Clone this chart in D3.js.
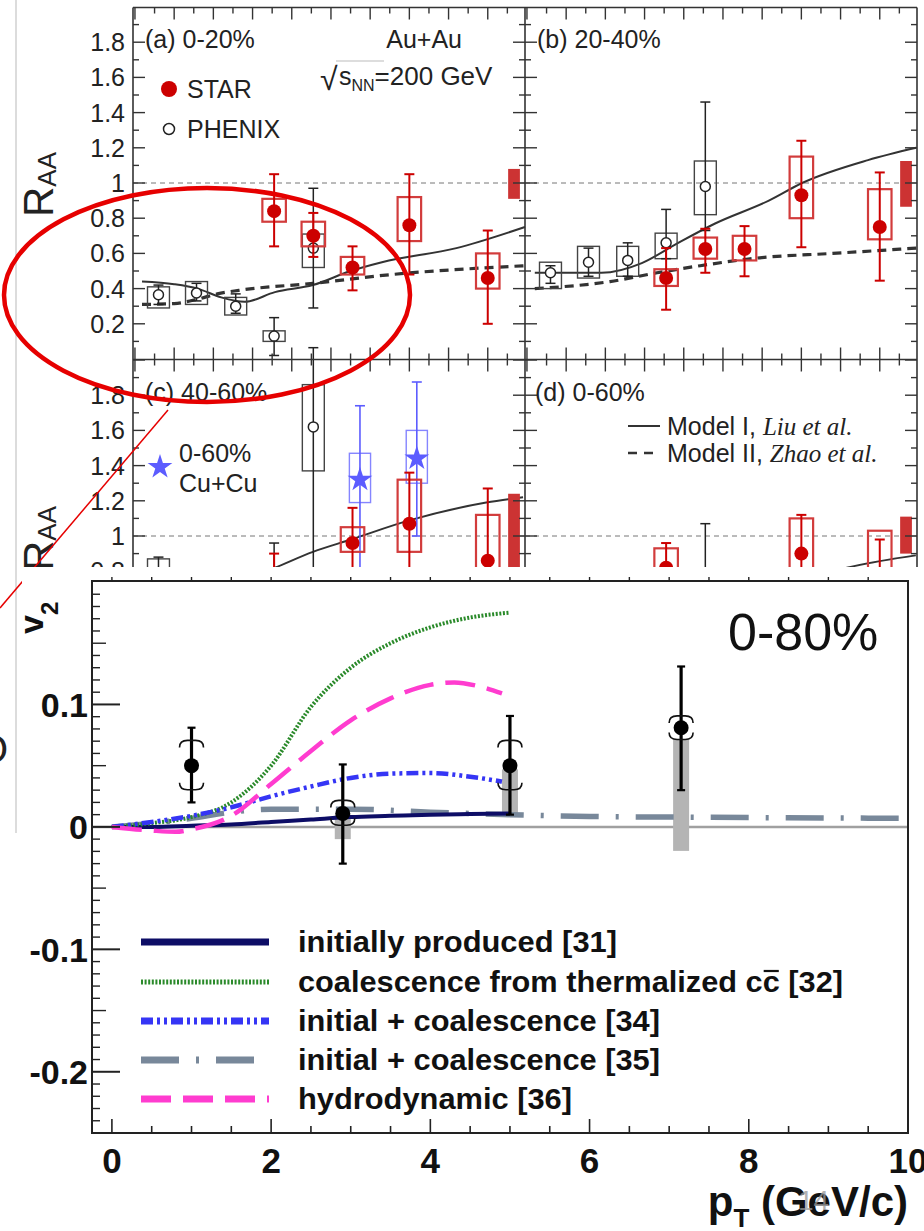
<!DOCTYPE html>
<html>
<head>
<meta charset="utf-8">
<script src="https://cdn.jsdelivr.net/npm/d3@7"></script>
<style>
  body { margin: 0; background: #fff; }
  svg { display: block; }
</style>
</head>
<body>
<div id="chart"></div>
<script>
// ---------- upper figure: J/psi R_AA (STAR / PHENIX) ----------
const phenixPt = [0.6, 1.57, 2.57, 3.55, 4.55]
const starPt = [3.55, 4.55, 5.55, 7.0, 9.0]
const yLabelsUpper = [0.2, 0.4, 0.6, 0.8, 1, 1.2, 1.4, 1.6, 1.8]
const yLabelsLower = [0.8, 1, 1.2, 1.4, 1.6, 1.8]

// (a) 0-20%
const starA = [0.84, 0.70, 0.52, 0.76, 0.46]
const starAErrHi = [1.05, 0.83, 0.64, 1.05, 0.73]
const starAErrLo = [0.64, 0.58, 0.39, 0.48, 0.20]
const starABoxHi = [0.91, 0.78, 0.58, 0.92, 0.60]
const starABoxLo = [0.78, 0.64, 0.48, 0.67, 0.40]
const phenixA = [0.365, 0.375, 0.30, 0.13, 0.63]
const phenixAErrHi = [0.42, 0.43, 0.37, 0.235, 0.97]
const phenixAErrLo = [0.31, 0.33, 0.26, 0.02, 0.29]
const phenixABoxHi = [0.41, 0.44, 0.35, 0.16, 0.71]
const phenixABoxLo = [0.29, 0.31, 0.25, 0.10, 0.52]
const modelAPt1 = [0.18, 1.0, 1.6, 2.2, 2.8, 3.57, 4.54, 5.5, 6.3, 8.2, 9.95]
const modelA1 = [0.44, 0.425, 0.40, 0.35, 0.325, 0.38, 0.42, 0.50, 0.55, 0.63, 0.75]
const modelAPt2 = [0.18, 1.0, 1.6, 2.1, 2.65, 4.54, 6.55, 9.95]
const modelA2 = [0.31, 0.315, 0.34, 0.37, 0.39, 0.43, 0.48, 0.53]
const globalA = [0.91, 1.08]

// (b) 20-40%
const starB = [0.46, 0.625, 0.625, 0.93, 0.75]
const starBErrHi = [0.63, 0.74, 0.755, 1.24, 1.06]
const starBErrLo = [0.28, 0.49, 0.47, 0.635, 0.445]
const starBBoxHi = [0.51, 0.69, 0.70, 1.15, 0.965]
const starBBoxLo = [0.415, 0.57, 0.56, 0.80, 0.68]
const phenixB = [0.49, 0.55, 0.56, 0.66, 0.98]
const phenixBErrHi = [0.53, 0.63, 0.66, 0.85, 1.46]
const phenixBErrLo = [0.43, 0.47, 0.47, 0.57, 0.73]
const phenixBBoxHi = [0.55, 0.64, 0.64, 0.715, 1.125]
const phenixBBoxLo = [0.40, 0.46, 0.47, 0.57, 0.82]
const modelBPt1 = [0.2, 1.0, 1.9, 2.93, 3.78, 4.8, 6.17, 7.02, 8.7, 9.93]
const modelB1 = [0.49, 0.49, 0.49, 0.545, 0.65, 0.77, 0.90, 1.0, 1.13, 1.20]
const modelBPt2 = [0.2, 2.12, 3.32, 4.42, 5.94, 7.8, 9.93]
const modelB2 = [0.40, 0.44, 0.49, 0.53, 0.575, 0.60, 0.63]
const globalB = [0.865, 1.125]

// (c) 40-60%  (lower part hidden by the v2 figure)
const starCPt = [3.55, 5.55, 7.0, 9.0]
const starC = [0.6, 0.96, 1.07, 0.86]
const starCErrHi = [0.90, 1.16, 1.36, 1.27]
const starCErrLo = [0.3, 0.7, 0.75, 0.5]
const starCBoxHi = [0.7, 1.05, 1.32, 1.12]
const starCBoxLo = [0.5, 0.91, 0.91, 0.6]
const phenixCPt = [0.6, 3.55, 4.55]
const phenixC = [0.7, 0.5, 1.62]
const phenixCErrHi = [0.88, 0.96, 2.07]
const phenixCErrLo = [0.5, 0.2, 0.6]
const phenixCBoxHi = [0.87, 0.6, 1.86]
const phenixCBoxLo = [0.55, 0.4, 1.37]
const cuPt = [5.74, 7.19]
const cuC = [1.32, 1.44]
const cuCErrHi = [1.74, 1.875]
const cuCErrLo = [0.75, 1.0]
const cuCBoxHi = [1.47, 1.60]
const cuCBoxLo = [1.19, 1.30]
const modelCPt1 = [2.0, 3.0, 3.57, 4.54, 5.51, 7.02, 8.96, 9.9]
const modelC1 = [0.70, 0.77, 0.82, 0.91, 0.98, 1.09, 1.19, 1.22]
const globalC = [0.7, 1.24]

// (d) 0-60%
const starDPt = [3.55, 7.0, 9.0]
const starD = [0.82, 0.90, 0.78]
const starDErrHi = [0.96, 1.12, 0.98]
const starDErrLo = [0.6, 0.7, 0.55]
const starDBoxHi = [0.93, 1.10, 1.03]
const starDBoxLo = [0.67, 0.75, 0.6]
const phenixDPt = [4.55]
const phenixD = [0.7]
const phenixDErrHi = [1.07]
const phenixDErrLo = [0.4]
const modelDPt1 = [6.0, 7.0, 8.16, 9.92]
const modelD1 = [0.70, 0.75, 0.82, 0.89]
const globalD = [0.90, 1.11]

// ---------- lower figure: J/psi v2, 0-80% ----------
const v2Pt = [1.0, 2.9, 5.0, 7.15]
const v2Val = [0.05, 0.011, 0.05, 0.081]
const v2ErrHi = [0.081, 0.051, 0.0906, 0.131]
const v2ErrLo = [0.020, -0.030, 0.010, 0.030]
const v2SysHi = [0.069, 0.020, 0.069, 0.089]
const v2SysLo = [0.032, 0.003, 0.032, 0.073]
const v2NonflowHi = [null, 0.01, 0.047, 0.071]
const v2NonflowLo = [null, -0.01, 0.01, -0.0196]

const initPt = [0, 0.5, 1, 1.5, 2, 2.5, 3, 3.5, 4, 4.5, 5]
const initV2 = [0, 0.0, 0.001, 0.002, 0.004, 0.006, 0.008, 0.009, 0.010, 0.0105, 0.011]
const coalPt = [0, 0.5, 1, 1.5, 2, 2.5, 3, 3.5, 4, 4.5, 5]
const coalV2 = [0, 0.003, 0.008, 0.02, 0.05, 0.098, 0.13, 0.15, 0.163, 0.171, 0.175]
const ic34Pt = [0, 0.5, 1, 1.5, 2, 2.5, 3, 3.5, 4, 4.5, 4.9]
const ic34V2 = [0, 0.004, 0.009, 0.016, 0.025, 0.033, 0.04, 0.0435, 0.044, 0.041, 0.037]
const ic35Pt = [0, 0.5, 1, 1.5, 2, 3, 4, 5, 6, 7, 8, 9, 10]
const ic35V2 = [0, 0.003, 0.007, 0.012, 0.0145, 0.0145, 0.012, 0.010, 0.0085, 0.008, 0.0076, 0.0073, 0.007]
const hydroPt = [0, 0.5, 0.8, 1, 1.5, 2, 2.5, 3, 3.5, 4, 4.3, 4.6, 4.9]
const hydroV2 = [0, -0.003, -0.004, -0.002, 0.009, 0.035, 0.062, 0.087, 0.105, 0.116, 0.118, 0.115, 0.109]

const modelNames = [
  'initially produced [31]',
  'coalescence from thermalized cc [32]',
  'initial + coalescence [34]',
  'initial + coalescence [35]',
  'hydrodynamic [36]'
]
const v2TickLabels = ['0.1', '0', '-0.1', '-0.2']
const v2TickValues = [0.1, 0, -0.1, -0.2]
const ptTickLabels = [0, 2, 4, 6, 8, 10]

// ---------------------------------------------------------------
const W = 924
const H = 1231
const sans = "'Liberation Sans', Arial, Helvetica, sans-serif"
const narrow = "'Liberation Sans Narrow', 'Arial Narrow', 'Liberation Sans', Arial, sans-serif"

const svg = d3.select('#chart').append('svg')
  .attr('width', W).attr('height', H)
  .style('font-family', sans)
svg.append('rect').attr('width', W).attr('height', H).attr('fill', '#fff')

// slide leftovers behind the figures
svg.append('line').attr('x1', 16).attr('x2', 16).attr('y1', 0).attr('y2', 833)
  .attr('stroke', '#dcdcdc').attr('stroke-width', 2)
svg.append('text').attr('x', -23).attr('y', 763).attr('font-size', 40).attr('fill', '#222').text('O')

// ---------- upper figure ----------
svg.append('clipPath').attr('id', 'upperClip')
  .append('rect').attr('x', 20).attr('y', 0).attr('width', W - 20).attr('height', 567)

const up = svg.append('g').attr('clip-path', 'url(#upperClip)')

const xA = d3.scaleLinear().domain([-0.05, 9.95]).range([133, 525])
const xB = d3.scaleLinear().domain([-0.05, 9.95]).range([525, 917])
const yUp = d3.scaleLinear().domain([0, 2]).range([359, 7])
const yLow = d3.scaleLinear().domain([1, 2]).range([536, 360])

const curve = (x, y) => d3.line().x(d => x(d[0])).y(d => y(d[1])).curve(d3.curveMonotoneX)

const starStyle = { color: '#cc0000', box: '#d23c3c', boxW: 2.2, errW: 2, cap: 5, halfW: 0.3, r: 7, kind: 'fill' }
const phenixStyle = { color: '#222', box: '#444', boxW: 1.4, errW: 1.5, cap: 5, halfW: 0.28, r: 5, kind: 'open' }
const cuStyle = { color: '#5c5cff', box: '#8585ff', boxW: 1.4, errW: 1.6, cap: 5, halfW: 0.27, r: 9, kind: 'star' }

function drawSeries (g, x, y, pts, val, errHi, errLo, boxHi, boxLo, s) {
  const rows = pts.map((p, i) => ({
    p, v: val[i], eh: errHi[i], el: errLo[i],
    bh: boxHi ? boxHi[i] : null, bl: boxLo ? boxLo[i] : null
  }))
  const grp = g.append('g')
  grp.selectAll('rect').data(rows.filter(d => d.bh != null)).join('rect')
    .attr('x', d => x(d.p - s.halfW))
    .attr('width', d => x(d.p + s.halfW) - x(d.p - s.halfW))
    .attr('y', d => y(d.bh))
    .attr('height', d => y(d.bl) - y(d.bh))
    .attr('fill', 'none').attr('stroke', s.box).attr('stroke-width', s.boxW)
  grp.selectAll('line.err').data(rows).join('line').attr('class', 'err')
    .attr('x1', d => x(d.p)).attr('x2', d => x(d.p))
    .attr('y1', d => y(d.eh)).attr('y2', d => y(d.el))
    .attr('stroke', s.color).attr('stroke-width', s.errW)
  ;['eh', 'el'].forEach(k => {
    grp.selectAll('line.' + k).data(rows).join('line').attr('class', k)
      .attr('x1', d => x(d.p) - s.cap).attr('x2', d => x(d.p) + s.cap)
      .attr('y1', d => y(d[k])).attr('y2', d => y(d[k]))
      .attr('stroke', s.color).attr('stroke-width', s.errW)
  })
  if (s.kind === 'star') {
    grp.selectAll('path.pt').data(rows).join('path').attr('class', 'pt')
      .attr('transform', d => `translate(${x(d.p)},${y(d.v)})`)
      .attr('d', d3.symbol(d3.symbolStar, 190))
      .attr('fill', s.color)
  } else {
    grp.selectAll('circle').data(rows).join('circle')
      .attr('cx', d => x(d.p)).attr('cy', d => y(d.v)).attr('r', s.r)
      .attr('fill', s.kind === 'fill' ? s.color : '#fff')
      .attr('stroke', s.kind === 'fill' ? s.color : '#222')
      .attr('stroke-width', s.kind === 'fill' ? 0 : 1.5)
  }
}

function drawModels (g, x, y, solidPt, solid, dashPt, dash) {
  if (solidPt) {
    g.append('path').datum(d3.zip(solidPt, solid)).attr('d', curve(x, y))
      .attr('fill', 'none').attr('stroke', '#333').attr('stroke-width', 2)
  }
  if (dashPt) {
    g.append('path').datum(d3.zip(dashPt, dash)).attr('d', curve(x, y))
      .attr('fill', 'none').attr('stroke', '#333').attr('stroke-width', 3.2)
      .attr('stroke-dasharray', '9,6')
  }
}

function drawGlobal (g, x, y, range) {
  g.append('rect')
    .attr('x', x(9.52)).attr('width', x(9.82) - x(9.52))
    .attr('y', y(range[1])).attr('height', y(range[0]) - y(range[1]))
    .attr('fill', '#cc3333')
}

function unityLine (g, x, y) {
  g.append('line').attr('x1', x.range()[0]).attr('x2', x.range()[1])
    .attr('y1', y(1)).attr('y2', y(1))
    .attr('stroke', '#777').attr('stroke-width', 1).attr('stroke-dasharray', '5,4')
}

// reference lines
unityLine(up, xA, yUp)
unityLine(up, xB, yUp)
unityLine(up, xA, yLow)
unityLine(up, xB, yLow)

// panel (a)
drawModels(up, xA, yUp, modelAPt1, modelA1, modelAPt2, modelA2)
drawSeries(up, xA, yUp, phenixPt, phenixA, phenixAErrHi, phenixAErrLo, phenixABoxHi, phenixABoxLo, phenixStyle)
drawSeries(up, xA, yUp, starPt, starA, starAErrHi, starAErrLo, starABoxHi, starABoxLo, starStyle)
drawGlobal(up, xA, yUp, globalA)

// panel (b)
drawModels(up, xB, yUp, modelBPt1, modelB1, modelBPt2, modelB2)
drawSeries(up, xB, yUp, phenixPt, phenixB, phenixBErrHi, phenixBErrLo, phenixBBoxHi, phenixBBoxLo, phenixStyle)
drawSeries(up, xB, yUp, starPt, starB, starBErrHi, starBErrLo, starBBoxHi, starBBoxLo, starStyle)
drawGlobal(up, xB, yUp, globalB)

// panel (c)
drawModels(up, xA, yLow, modelCPt1, modelC1)
drawSeries(up, xA, yLow, phenixCPt, phenixC, phenixCErrHi, phenixCErrLo, phenixCBoxHi, phenixCBoxLo, phenixStyle)
drawSeries(up, xA, yLow, cuPt, cuC, cuCErrHi, cuCErrLo, cuCBoxHi, cuCBoxLo, cuStyle)
drawSeries(up, xA, yLow, starCPt, starC, starCErrHi, starCErrLo, starCBoxHi, starCBoxLo, starStyle)
drawGlobal(up, xA, yLow, globalC)

// panel (d)
drawModels(up, xB, yLow, modelDPt1, modelD1)
drawSeries(up, xB, yLow, phenixDPt, phenixD, phenixDErrHi, phenixDErrLo, null, null, phenixStyle)
drawSeries(up, xB, yLow, starDPt, starD, starDErrHi, starDErrLo, starDBoxHi, starDBoxLo, starStyle)
drawGlobal(up, xB, yLow, globalD)

// frames and ticks
const frame = up.append('g').attr('stroke', '#333').attr('stroke-width', 1.6)
frame.append('line').attr('x1', 133).attr('x2', 917).attr('y1', 7.5).attr('y2', 7.5)
frame.append('line').attr('x1', 133).attr('x2', 917).attr('y1', 359.5).attr('y2', 359.5)
;[133, 525, 917].forEach(xp => {
  frame.append('line').attr('x1', xp).attr('x2', xp).attr('y1', 7.5).attr('y2', 567)
})

const ticks = up.append('g').attr('stroke', '#333').attr('stroke-width', 1.4)
const isMult = (v, m) => Math.abs(v / m - Math.round(v / m)) < 1e-6
function yTickMarks (y, vals, xp, dirs) {
  vals.forEach(v => {
    const len = isMult(v, 0.2) ? 12 : 6
    dirs.forEach(dir => {
      ticks.append('line').attr('x1', xp).attr('x2', xp + dir * len)
        .attr('y1', y(v)).attr('y2', y(v))
    })
  })
}
const yValsUp = d3.range(1, 20).map(i => i / 10)
const yValsLow = d3.range(7, 21).map(i => i / 10)
yTickMarks(yUp, yValsUp, 133, [1])
yTickMarks(yUp, yValsUp, 525, [1, -1])
yTickMarks(yUp, yValsUp, 917, [-1])
yTickMarks(yLow, yValsLow, 133, [1])
yTickMarks(yLow, yValsLow, 525, [1, -1])
yTickMarks(yLow, yValsLow, 917, [-1])

const ptHalf = d3.range(0, 20).map(i => i / 2)
;[xA, xB].forEach(x => {
  ptHalf.forEach(v => {
    const len = isMult(v, 1) ? 12 : 6
    ticks.append('line').attr('x1', x(v)).attr('x2', x(v)).attr('y1', 7.5).attr('y2', 7.5 + len)
    ticks.append('line').attr('x1', x(v)).attr('x2', x(v)).attr('y1', 359.5 - len).attr('y2', 359.5 + len)
  })
})

// y tick labels
const upText = up.append('g').attr('fill', '#222').attr('font-size', 25)
yLabelsUpper.forEach(v => {
  upText.append('text').attr('x', 125).attr('y', yUp(v)).attr('dy', '0.36em')
    .attr('text-anchor', 'end').text(String(v))
})
yLabelsLower.forEach(v => {
  upText.append('text').attr('x', 125).attr('y', yLow(v)).attr('dy', '0.36em')
    .attr('text-anchor', 'end').text(String(v))
})

// R_AA titles
;[217, 571].forEach(yb => {
  const t = upText.append('text').attr('transform', `translate(53,${yb}) rotate(-90)`)
    .attr('font-size', 42)
  t.append('tspan').text('R')
  t.append('tspan').attr('font-size', 26).attr('dy', 3).text('AA')
})

// panel labels
upText.append('text').attr('x', 145).attr('y', 48).text('(a) 0-20%')
upText.append('text').attr('x', 537).attr('y', 48).text('(b) 20-40%')
upText.append('text').attr('x', 145).attr('y', 401).text('(c) 40-60%')
upText.append('text').attr('x', 535).attr('y', 401).text('(d) 0-60%')
upText.append('text').attr('x', 462).attr('y', 48).attr('text-anchor', 'end').text('Au+Au')
upText.append('text').attr('x', 320).attr('y', 90).attr('font-size', 32).attr('font-weight', 300).text('\u221A')
up.append('line').attr('x1', 336).attr('x2', 384).attr('y1', 61).attr('y2', 61)
  .attr('stroke', '#bbb').attr('stroke-width', 1.2)
const snn = upText.append('text').attr('x', 339).attr('y', 85)
snn.append('tspan').text('s')
snn.append('tspan').attr('font-size', 16).attr('dy', 6).text('NN')
snn.append('tspan').attr('font-size', 26).attr('dy', -6).text('=200 GeV')

// legend (a)
up.append('circle').attr('cx', 169).attr('cy', 89).attr('r', 8).attr('fill', '#cc0000')
upText.append('text').attr('x', 187).attr('y', 98).text('STAR')
up.append('circle').attr('cx', 169).attr('cy', 129).attr('r', 5.5)
  .attr('fill', '#fff').attr('stroke', '#222').attr('stroke-width', 1.5)
upText.append('text').attr('x', 187).attr('y', 138).text('PHENIX')

// legend (c)
up.append('path').attr('transform', 'translate(160,467)')
  .attr('d', d3.symbol(d3.symbolStar, 190)).attr('fill', '#5c5cff')
upText.append('text').attr('x', 179).attr('y', 462).text('0-60%')
upText.append('text').attr('x', 179).attr('y', 492).text('Cu+Cu')

// legend (d)
up.append('line').attr('x1', 628).attr('x2', 660).attr('y1', 426).attr('y2', 426)
  .attr('stroke', '#333').attr('stroke-width', 2)
up.append('line').attr('x1', 628).attr('x2', 660).attr('y1', 453).attr('y2', 453)
  .attr('stroke', '#333').attr('stroke-width', 2.4).attr('stroke-dasharray', '9,7')
const m1 = upText.append('text').attr('x', 667).attr('y', 435)
m1.append('tspan').text('Model I, ')
m1.append('tspan').attr('font-family', "'Liberation Serif', 'Times New Roman', serif")
  .attr('font-style', 'italic').text('Liu et al.')
const m2 = upText.append('text').attr('x', 667).attr('y', 462)
m2.append('tspan').text('Model II, ')
m2.append('tspan').attr('font-family', "'Liberation Serif', 'Times New Roman', serif")
  .attr('font-style', 'italic').text('Zhao et al.')

// red annotation
svg.append('ellipse').attr('cx', 207).attr('cy', 295).attr('rx', 203).attr('ry', 107)
  .attr('fill', 'none').attr('stroke', '#e60000').attr('stroke-width', 4.5)
svg.append('line').attr('x1', 168).attr('y1', 410).attr('x2', 0).attr('y2', 608)
  .attr('stroke', '#e60000').attr('stroke-width', 1.5)

// ---------- lower figure (pasted on top) ----------
svg.append('rect').attr('x', 22).attr('y', 567).attr('width', W - 22).attr('height', H - 567)
  .attr('fill', '#fff')

const low = svg.append('g')
const xV = d3.scaleLinear().domain([-0.25, 10]).range([92, 908])
const yV = d3.scaleLinear().domain([-0.25, 0.2]).range([1133, 582])

svg.append('clipPath').attr('id', 'v2Clip')
  .append('rect').attr('x', 92).attr('y', 581).attr('width', 816).attr('height', 552)

// zero line
low.append('line').attr('x1', 92).attr('x2', 908).attr('y1', yV(0)).attr('y2', yV(0))
  .attr('stroke', '#a0a0a0').attr('stroke-width', 2.5)

// non-flow grey bars
const nonflow = v2Pt.map((p, i) => ({ p, hi: v2NonflowHi[i], lo: v2NonflowLo[i] }))
  .filter(d => d.hi != null)
low.selectAll('rect.nf').data(nonflow).join('rect').attr('class', 'nf')
  .attr('x', d => xV(d.p) - 8).attr('width', 16)
  .attr('y', d => yV(d.hi)).attr('height', d => yV(d.lo) - yV(d.hi))
  .attr('fill', '#b4b4b4')

// model curves
const modelStyles = [
  { color: '#0d0d66', width: 4, dash: null },
  { color: '#2a8a2a', width: 4, dash: '2,1.6' },
  { color: '#3535f5', width: 4.5, dash: '12,4,3,4,3,4' },
  { color: '#78889a', width: 5.5, dash: '38,17,3,17' },
  { color: '#ff3ccf', width: 4.5, dash: '30,12' }
]
const modelData = [
  d3.zip(initPt, initV2),
  d3.zip(coalPt, coalV2),
  d3.zip(ic34Pt, ic34V2),
  d3.zip(ic35Pt, ic35V2),
  d3.zip(hydroPt, hydroV2)
]
const curves = low.append('g').attr('clip-path', 'url(#v2Clip)')
;[3, 0, 1, 2, 4].forEach(i => {
  const st = modelStyles[i]
  curves.append('path').datum(modelData[i]).attr('d', curve(xV, yV))
    .attr('fill', 'none').attr('stroke', st.color).attr('stroke-width', st.width)
    .attr('stroke-dasharray', st.dash)
})

// frame
const vf = low.append('g').attr('stroke', '#222').attr('stroke-width', 2)
vf.append('rect').attr('x', 92).attr('y', 581).attr('width', 816).attr('height', 552)
  .attr('fill', 'none')
d3.range(-24, 20).map(i => i / 100).forEach(v => {
  const len = isMult(v, 0.1) ? 28 : (isMult(v, 0.05) ? 14 : 8)
  vf.append('line').attr('x1', 92).attr('x2', 92 + len).attr('y1', yV(v)).attr('y2', yV(v))
    .attr('stroke-width', isMult(v, 0.1) ? 2 : 1.4)
})
d3.range(0, 20).map(i => i / 2).forEach(v => {
  const len = isMult(v, 2) ? 14 : 7
  vf.append('line').attr('x1', xV(v)).attr('x2', xV(v)).attr('y1', 1133).attr('y2', 1133 - len)
    .attr('stroke-width', 1.6)
  vf.append('line').attr('x1', xV(v)).attr('x2', xV(v)).attr('y1', 577).attr('y2', 582)
    .attr('stroke-width', 1.4)
})

// data points
const pts = v2Pt.map((p, i) => ({
  p, v: v2Val[i], eh: v2ErrHi[i], el: v2ErrLo[i], sh: v2SysHi[i], sl: v2SysLo[i]
}))
const pg = low.append('g')
pg.selectAll('line.err').data(pts).join('line').attr('class', 'err')
  .attr('x1', d => xV(d.p)).attr('x2', d => xV(d.p))
  .attr('y1', d => yV(d.eh)).attr('y2', d => yV(d.el))
  .attr('stroke', '#000').attr('stroke-width', 3.2)
;['eh', 'el'].forEach(k => {
  pg.selectAll('line.' + k).data(pts).join('line').attr('class', k)
    .attr('x1', d => xV(d.p) - 4).attr('x2', d => xV(d.p) + 4)
    .attr('y1', d => yV(d[k])).attr('y2', d => yV(d[k]))
    .attr('stroke', '#000').attr('stroke-width', 2.2)
})
// systematic brackets
pg.selectAll('path.sh').data(pts).join('path').attr('class', 'sh')
  .attr('d', d => {
    const cx = xV(d.p); const cy = yV(d.sh)
    return `M${cx - 12},${cy + 5} Q${cx - 12},${cy - 2} ${cx - 4},${cy - 2} L${cx + 4},${cy - 2} Q${cx + 12},${cy - 2} ${cx + 12},${cy + 5}`
  })
  .attr('fill', 'none').attr('stroke', '#111').attr('stroke-width', 1.6)
pg.selectAll('path.sl').data(pts).join('path').attr('class', 'sl')
  .attr('d', d => {
    const cx = xV(d.p); const cy = yV(d.sl)
    return `M${cx - 12},${cy - 5} Q${cx - 12},${cy + 2} ${cx - 4},${cy + 2} L${cx + 4},${cy + 2} Q${cx + 12},${cy + 2} ${cx + 12},${cy - 5}`
  })
  .attr('fill', 'none').attr('stroke', '#111').attr('stroke-width', 1.6)
pg.selectAll('circle').data(pts).join('circle')
  .attr('cx', d => xV(d.p)).attr('cy', d => yV(d.v)).attr('r', 7.5).attr('fill', '#000')

// legend
const legY = [942, 982, 1021, 1060, 1099]
const legW = [319, 545, 362, 362, 274]
modelNames.forEach((name, i) => {
  const st = modelStyles[i]
  low.append('line').attr('x1', 141).attr('x2', 269).attr('y1', legY[i]).attr('y2', legY[i])
    .attr('stroke', st.color).attr('stroke-width', i === 1 ? 5 : 7)
    .attr('stroke-dasharray', st.dash)
  const t = low.append('text').attr('x', 298).attr('y', legY[i] + 10)
    .attr('font-family', narrow).attr('font-weight', 'bold').attr('font-size', 30)
    .attr('fill', '#111')
    .attr('textLength', legW[i]).attr('lengthAdjust', 'spacingAndGlyphs')
    .text(name)
  if (i === 1) {
    // bar over the anti-charm quark
    const k = name.lastIndexOf('c [')
    const node = t.node()
    const a = node.getStartPositionOfChar(k)
    const b = node.getEndPositionOfChar(k)
    low.append('line').attr('x1', a.x + 1).attr('x2', b.x - 1)
      .attr('y1', legY[i] - 11).attr('y2', legY[i] - 11)
      .attr('stroke', '#111').attr('stroke-width', 2.2)
  }
})

// axis labels
const lt = low.append('g').attr('fill', '#111').attr('font-weight', 'bold')
v2TickValues.forEach((v, i) => {
  lt.append('text').attr('x', 88).attr('y', yV(v)).attr('dy', '0.36em')
    .attr('text-anchor', 'end').attr('font-size', 34).text(v2TickLabels[i])
})
ptTickLabels.forEach(v => {
  lt.append('text').attr('x', xV(v)).attr('y', 1173)
    .attr('text-anchor', 'middle').attr('font-size', 35).text(v)
})
const v2t = lt.append('text').attr('transform', 'translate(43,634) rotate(-90)').attr('font-size', 34)
v2t.append('tspan').text('v')
v2t.append('tspan').attr('font-size', 24).attr('dy', 15).text('2')
const ptl = lt.append('text').attr('x', 908).attr('y', 1216).attr('text-anchor', 'end').attr('font-size', 42)
ptl.append('tspan').text('p')
ptl.append('tspan').attr('font-size', 26).attr('dy', 11).text('T')
ptl.append('tspan').attr('dy', -11).text(' (GeV/c)')
low.append('text').attr('x', 728).attr('y', 650).attr('font-size', 52).attr('fill', '#111').text('0-80%')
low.append('text').attr('x', 798).attr('y', 1210).attr('font-size', 28).attr('fill', '#999')
  .attr('opacity', 0.75).text('14')
</script>
</body>
</html>
